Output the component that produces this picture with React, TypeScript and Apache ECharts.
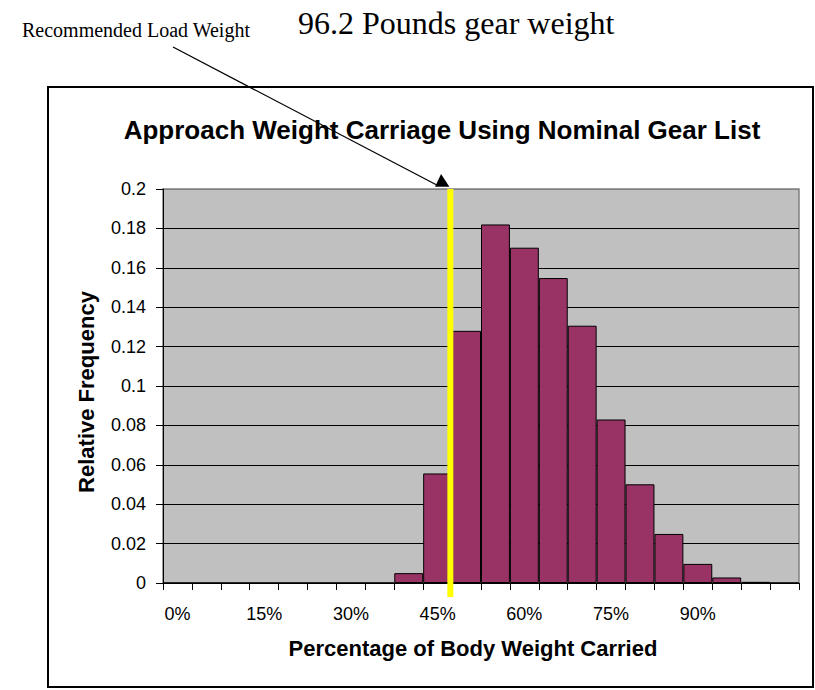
import React, { useEffect, useRef } from 'react';
import * as echarts from 'echarts';

// Histogram bins (tick labels) and relative frequencies
const binLabels = [
  '0%', '5%', '10%', '15%', '20%', '25%', '30%', '35%', '40%', '45%', '50%',
  '55%', '60%', '65%', '70%', '75%', '80%', '85%', '90%', '95%', '100%', '105%',
];
const relativeFrequency = [
  0, 0, 0, 0, 0, 0, 0, 0, 0.005, 0.0556, 0.128,
  0.182, 0.1702, 0.1548, 0.1306, 0.083, 0.0501, 0.0249, 0.0097, 0.0028, 0.0006, 0,
];

const chartTitle = 'Approach Weight Carriage Using Nominal Gear List';
const xAxisName = 'Percentage of Body Weight Carried';
const yAxisName = 'Relative Frequency';
const headerText = '96.2 Pounds gear weight';
const calloutText = 'Recommended Load Weight';
const recommendedPct = 47.2;
const binWidthPct = 5;
const yMin = 0;
const yMax = 0.2;
const yStep = 0.02;

export default function App() {
  const ref = useRef<HTMLDivElement>(null);

  useEffect(() => {
    const chart = echarts.init(ref.current as HTMLDivElement, null, { renderer: 'svg' });
    const sans = "'Liberation Sans', Arial, sans-serif";
    const serif = "'Liberation Serif', 'Times New Roman', serif";
    const lineCount = Math.round((yMax - yMin) / yStep) + 1;
    const splitColors: string[] = [];
    for (let i = 0; i < lineCount; i++) splitColors.push(i === lineCount - 1 ? '#808080' : '#000000');

    chart.setOption({
      animation: false,
      backgroundColor: '#ffffff',
      title: {
        text: chartTitle,
        left: 437,
        top: 112,
        textAlign: 'center',
        textStyle: { fontFamily: sans, fontSize: 26, fontWeight: 'bold', color: '#000' },
      },
      grid: {
        left: 163,
        top: 189,
        width: 636,
        height: 394,
        show: true,
        backgroundColor: '#C0C0C0',
        borderColor: '#808080',
        borderWidth: 1.5,
      },
      xAxis: {
        type: 'category',
        data: binLabels,
        axisLine: { lineStyle: { color: '#000', width: 1 } },
        axisTick: { show: true, interval: 0, length: 7, lineStyle: { color: '#000' } },
        axisLabel: {
          interval: (i: number) => i % 3 === 0 && i < binLabels.length - 1,
          margin: 22,
          fontSize: 18,
          color: '#000',
          fontFamily: sans,
        },
        splitLine: { show: false },
        name: xAxisName,
        nameLocation: 'middle',
        nameGap: 54,
        nameTextStyle: {
          fontSize: 22,
          fontWeight: 'bold',
          color: '#000',
          fontFamily: sans,
          padding: [0, 16, 0, 0],
        },
      },
      yAxis: {
        type: 'value',
        min: yMin,
        max: yMax,
        interval: yStep,
        axisLine: { show: true, lineStyle: { color: '#000', width: 1 } },
        axisTick: { show: true, length: 7, lineStyle: { color: '#000' } },
        axisLabel: { margin: 17, fontSize: 18, color: '#000', fontFamily: sans },
        splitLine: { show: true, lineStyle: { color: splitColors, width: 1 } },
        name: yAxisName,
        nameLocation: 'middle',
        nameGap: 66,
        nameTextStyle: {
          fontSize: 22,
          fontWeight: 'bold',
          color: '#000',
          fontFamily: sans,
          padding: [0, 12, 0, 0],
        },
      },
      series: [
        {
          type: 'bar',
          data: relativeFrequency,
          barCategoryGap: 0,
          itemStyle: { color: '#993366', borderColor: '#000', borderWidth: 1 },
        },
      ],
    });

    const p0 = chart.convertToPixel({ xAxisIndex: 0 }, 0) as number;
    const p1 = chart.convertToPixel({ xAxisIndex: 0 }, 1) as number;
    const lx = p0 + (recommendedPct / binWidthPct) * (p1 - p0);
    const yTop = chart.convertToPixel({ yAxisIndex: 0 }, yMax) as number;
    const yZero = chart.convertToPixel({ yAxisIndex: 0 }, yMin) as number;

    chart.setOption({
      graphic: [
        {
          type: 'rect',
          shape: { x: 48, y: 87, width: 765, height: 600 },
          style: { fill: 'none', stroke: '#000', lineWidth: 2 },
          z: 1,
        },
        {
          type: 'text',
          x: 298,
          y: 23,
          style: { text: headerText, fontSize: 32, fontFamily: serif, fill: '#000', verticalAlign: 'middle', align: 'left' },
        },
        {
          type: 'text',
          x: 22,
          y: 30,
          style: { text: calloutText, fontSize: 20, fontFamily: serif, fill: '#000', verticalAlign: 'middle', align: 'left' },
        },
        {
          type: 'line',
          shape: { x1: 173, y1: 47, x2: lx - 13.6, y2: yTop - 4 },
          style: { stroke: '#000', lineWidth: 1.3 },
          z: 100,
        },
        {
          type: 'polygon',
          shape: { points: [[lx - 9.3, yTop - 15], [lx - 15.3, yTop - 2.3], [lx - 1, yTop - 2.3]] },
          style: { fill: '#000' },
          z: 100,
        },
        {
          type: 'line',
          shape: { x1: lx, y1: yTop, x2: lx, y2: yZero + 14 },
          style: { stroke: '#FFFF00', lineWidth: 6 },
          z: 100,
        },
      ],
    });

    return () => chart.dispose();
  }, []);

  return <div ref={ref} style={{ position: 'absolute', left: 0, top: 0, width: 815, height: 690 }} />;
}
